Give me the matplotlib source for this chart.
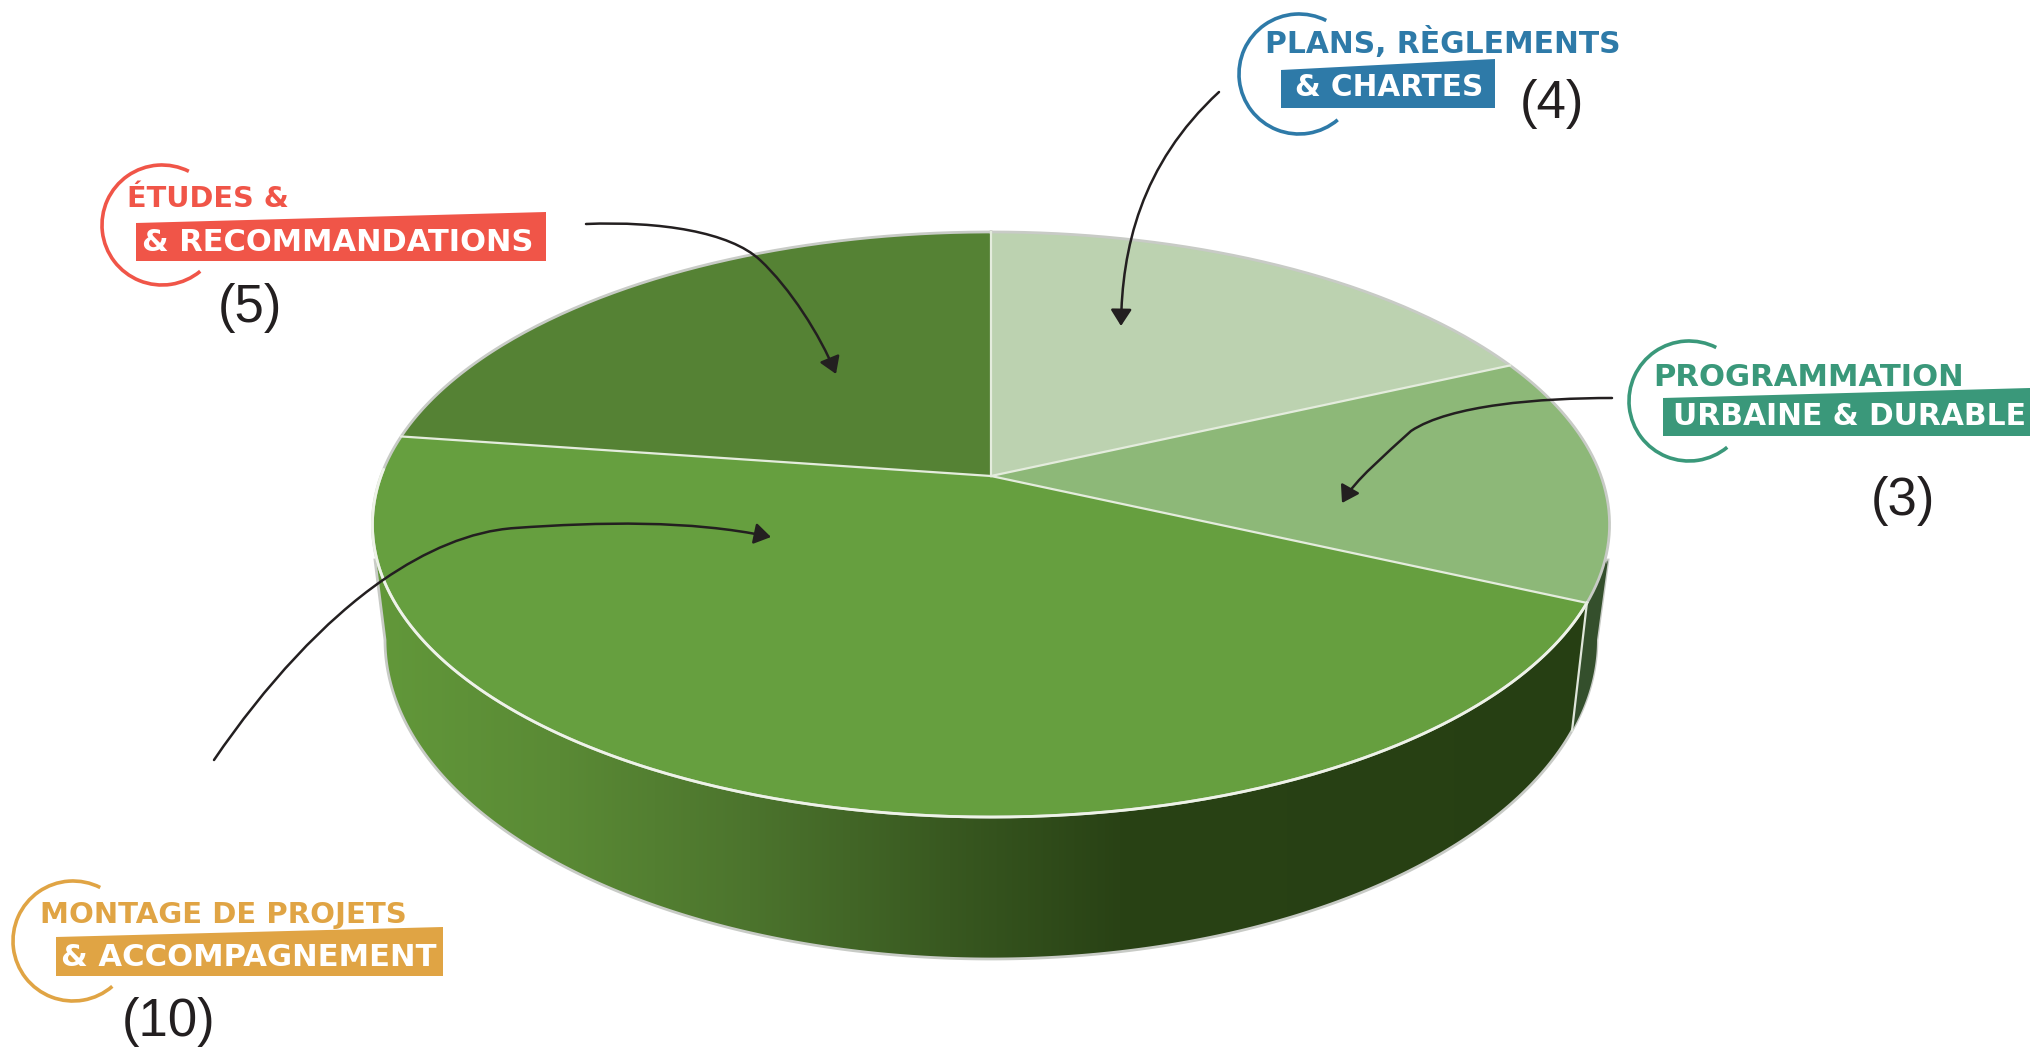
import numpy as np
import matplotlib
matplotlib.use("Agg")
import matplotlib.pyplot as plt
from matplotlib.patches import Arc, FancyArrowPatch, Polygon
from matplotlib.path import Path

categories = ["Plans, règlements & chartes", "Programmation urbaine & durable",
              "Montage de projets & accompagnement", "Études & recommandations"]
counts = [4, 3, 10, 5]
slice_colors = ["#bcd2b0", "#8db878", "#669f3f", "#558234"]

LABEL_FONT = "DejaVu Sans"
COUNT_FONT = "Liberation Sans"
INK = "#231f20"

# pie geometry in pixels, top disc is a perspective view of a unit circle
CX, CY = 991, 476
A, B, K = 610, 284.5, 0.1658
# bottom disc of the cylinder
LOW_CY, LOW_RX, LOW_RY = 640, 606, 319


def disc(angle):
    # angle in radians, clockwise from 12 o'clock
    x, y = np.sin(angle), np.cos(angle)
    w = 1 + K * y
    return CX + A * x / w, CY - B * y / w


def low_disc(t):
    # t in radians, 0 = right, pi/2 = front
    return CX + LOW_RX * np.cos(t), LOW_CY + LOW_RY * np.sin(t)


fig = plt.figure(figsize=(20.3, 10.48), dpi=100)
ax = fig.add_axes([0, 0, 1, 1])
ax.set_xlim(0, 2030)
ax.set_ylim(1048, 0)
ax.axis("off")

# side wall
ts = np.linspace(np.pi, 0, 300)
lx, ly = low_disc(ts)
wall_x = np.r_[lx, 1608, 375]
wall_y = np.r_[ly, 560, 560]
wall = Polygon(np.c_[wall_x, wall_y], closed=True, fc="none", ec="#c8cbc6", lw=2, zorder=2)
ax.add_patch(wall)

stops_x = [375, 560, 750, 950, 1120, 1620]
stops_rgb = np.array([[0x62, 0x98, 0x3a], [0x5a, 0x8a, 0x35], [0x4c, 0x74, 0x2d],
                      [0x38, 0x58, 0x20], [0x29, 0x42, 0x15], [0x26, 0x3f, 0x13]]) / 255
px = np.arange(370, 1625)
grad = np.stack([np.interp(px, stops_x, stops_rgb[:, i]) for i in range(3)], axis=1)[None, :, :]
im = ax.imshow(grad, extent=(370, 1625, 1000, 500), aspect="auto", zorder=1,
               interpolation="bilinear")
im.set_clip_path(wall)
ax.set_xlim(0, 2030)
ax.set_ylim(1048, 0)

# wall of the second slice, the only other one that shows
edges = 2 * np.pi * np.cumsum([0] + counts) / sum(counts)
rim_x, rim_y = disc(edges[2])
tt = np.linspace(np.radians(16.5), 0, 40)
sx, sy = low_disc(tt)
ax.fill(np.r_[rim_x, sx, 1608], np.r_[rim_y, sy, 560], color="#344f2c", lw=0, zorder=3)
ax.plot([rim_x, sx[0]], [rim_y, sy[0]], color="#dfe6da", lw=1.6, zorder=4)

# top face
for i in range(len(counts)):
    a = np.linspace(edges[i], edges[i + 1], 200)
    x, y = disc(a)
    ax.fill(np.r_[CX, x], np.r_[CY, y], color=slice_colors[i], lw=0, zorder=5)

a_all = np.linspace(0, 2 * np.pi, 600)
ax.plot(*disc(a_all), color="#c8cbc6", lw=2, zorder=6)
a_front = np.linspace(edges[2], edges[3] - 0.12, 300)
ax.plot(*disc(a_front), color="#eef3e8", lw=2, zorder=7)
for e in edges[:-1]:
    x, y = disc(e)
    ax.plot([CX, x], [CY, y], color="#e4ecdd", lw=1.6, zorder=7)


def fit_text(x0, x1, base, s, color):
    # bold label stretched to the given span through its font size
    t = ax.text(x0, base, s, color=color, family=LABEL_FONT, weight="bold", fontsize=20,
                ha="left", va="baseline", zorder=12)
    w = t.get_window_extent(fig.canvas.get_renderer()).width
    t.set_fontsize(20 * (x1 - x0) / w)
    return t


def callout(cx, cy, end_top, end_low, color, line1, line1_span, line1_base,
            band, line2, line2_span, line2_base, count, count_x, count_base):
    th1 = np.degrees(np.arctan2(end_low[1] - cy, end_low[0] - cx)) % 360
    th0 = np.degrees(np.arctan2(end_top[1] - cy, end_top[0] - cx)) % 360
    ax.add_patch(Arc((cx, cy), 120, 120, theta1=th1, theta2=th0, color=color, lw=2.6, zorder=11))
    ax.add_patch(Polygon(band, closed=True, fc=color, ec="none", zorder=10))
    fit_text(line1_span[0], line1_span[1], line1_base, line1, color)
    fit_text(line2_span[0], line2_span[1], line2_base, line2, "white")
    ax.text(count_x, count_base, f"({count})", family=COUNT_FONT, fontsize=38, color=INK,
            ha="center", va="baseline", zorder=12)


callout(1299, 74, (1326, 21), (1337, 119), "#2e7aa8",
        "PLANS, RÈGLEMENTS", (1265, 1620), 53,
        [(1281, 70), (1495, 59), (1495, 108), (1281, 108)],
        "& CHARTES", (1295, 1483), 96, counts[0], 1552, 118)
callout(1689, 401, (1716, 348), (1727, 447), "#3a987a",
        "PROGRAMMATION", (1653, 1963), 386,
        [(1663, 398), (2030, 388), (2030, 436), (1663, 436)],
        "URBAINE & DURABLE", (1673, 2025), 425, counts[1], 1903, 515)
callout(73, 941, (100, 888), (112, 986), "#e0a444",
        "MONTAGE DE PROJETS", (40, 405), 923,
        [(56, 937), (443, 927), (443, 976), (56, 976)],
        "& ACCOMPAGNEMENT", (61, 435), 966, counts[2], 169, 1036)
callout(162, 225, (188, 173), (200, 271), "#f05548",
        "ÉTUDES &", (127, 288), 207,
        [(136, 223), (546, 212), (546, 261), (136, 261)],
        "& RECOMMANDATIONS", (142, 533), 251, counts[3], 250, 322)

# curved leader arrows
arrows = [
    [(1219, 92), (1140, 165), (1122, 250), (1121, 326)],
    [(586, 224), (660, 221), (730, 232), (760, 260), (790, 288), (820, 335), (836, 374)],
    [(1612, 398), (1540, 398), (1450, 405), (1411, 431), (1385, 455), (1355, 480), (1342, 503)],
    [(214, 760), (265, 685), (325, 620), (383, 580), (425, 551), (470, 531), (515, 528),
     (600, 522), (690, 520), (771, 537)],
]
for pts in arrows:
    codes = [Path.MOVETO] + [Path.CURVE4] * (len(pts) - 1)
    ax.add_patch(FancyArrowPatch(path=Path(pts, codes), arrowstyle="-|>,head_length=0.5,head_width=0.32",
                                 mutation_scale=20, color=INK, lw=1.8, zorder=9,
                                 shrinkA=0, shrinkB=0))

fig.savefig("out.png", dpi=100)
